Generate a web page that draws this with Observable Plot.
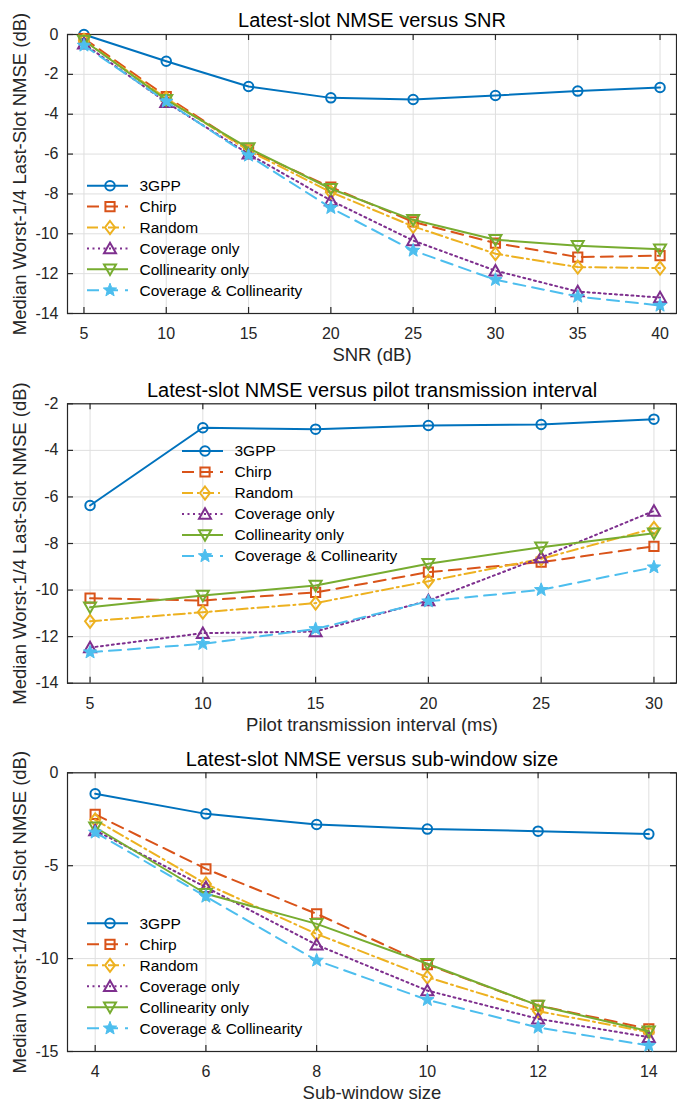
<!DOCTYPE html>
<html>
<head>
<meta charset="utf-8">
<script src="https://cdn.jsdelivr.net/npm/d3@7"></script>
<script src="https://cdn.jsdelivr.net/npm/@observablehq/plot@0.6"></script>
<style>
  html, body { margin: 0; padding: 0; background: #fff; }
  #chart { width: 677px; }
  #chart svg { display: block; }
</style>
</head>
<body>
<div id="chart"></div>
<script>
// ---------------- data ----------------
const seriesNames = ["3GPP", "Chirp", "Random", "Coverage only", "Collinearity only", "Coverage & Collinearity"];
const seriesColors = ["#0072BD", "#D95319", "#EDB120", "#7E2F8E", "#77AC30", "#4DBEEE"];

// Panel 1: SNR
const xSNR = [5, 10, 15, 20, 25, 30, 35, 40];
const snr3GPP = [0, -1.34, -2.61, -3.18, -3.26, -3.06, -2.84, -2.66];
const snrChirp = [-0.2, -3.11, -5.79, -7.66, -9.4, -10.47, -11.17, -11.1];
const snrRandom = [-0.3, -3.2, -5.83, -7.91, -9.63, -11.0, -11.67, -11.72];
const snrCoverage = [-0.47, -3.4, -5.99, -8.33, -10.34, -11.85, -12.9, -13.2];
const snrCollinearity = [-0.3, -3.28, -5.7, -7.74, -9.3, -10.3, -10.6, -10.77];
const snrCovCol = [-0.55, -3.36, -6.07, -8.7, -10.84, -12.31, -13.15, -13.6];

// Panel 2: pilot transmission interval
const xInterval = [5, 10, 15, 20, 25, 30];
const int3GPP = [-6.37, -3.03, -3.09, -2.93, -2.89, -2.66];
const intChirp = [-10.35, -10.45, -10.1, -9.23, -8.8, -8.12];
const intRandom = [-11.34, -10.95, -10.56, -9.62, -8.66, -7.35];
const intCoverage = [-12.47, -11.85, -11.78, -10.45, -8.6, -6.6];
const intCollinearity = [-10.74, -10.23, -9.8, -8.87, -8.16, -7.56];
const intCovCol = [-12.67, -12.31, -11.67, -10.48, -9.99, -9.02];

// Panel 3: sub-window size
const xWindow = [4, 6, 8, 10, 12, 14];
const win3GPP = [-1.13, -2.21, -2.78, -3.03, -3.14, -3.3];
const winChirp = [-2.24, -5.17, -7.59, -10.32, -12.52, -13.78];
const winRandom = [-2.53, -5.98, -8.67, -11.0, -12.83, -13.96];
const winCoverage = [-3.1, -6.16, -9.26, -11.72, -13.24, -14.23];
const winCollinearity = [-2.93, -6.51, -8.13, -10.28, -12.52, -13.91];
const winCovCol = [-3.21, -6.66, -10.1, -12.22, -13.71, -14.68];

// ticks
const ticksXSNR = [5, 10, 15, 20, 25, 30, 35, 40];
const ticksYSNR = [0, -2, -4, -6, -8, -10, -12, -14];
const ticksXInterval = [5, 10, 15, 20, 25, 30];
const ticksYInterval = [-2, -4, -6, -8, -10, -12, -14];
const ticksXWindow = [4, 6, 8, 10, 12, 14];
const ticksYWindow = [0, -5, -10, -15];

const titles = ["Latest-slot NMSE versus SNR", "Latest-slot NMSE versus pilot transmission interval", "Latest-slot NMSE versus sub-window size"];
const xLabels = ["SNR (dB)", "Pilot transmission interval (ms)", "Sub-window size"];
const yLabel = "Median Worst-1/4 Last-Slot NMSE (dB)";

// ---------------- styles ----------------
const FONT = "'Liberation Sans', Arial, Helvetica, sans-serif";
const INK = "#262626";
const dashes = [null, "12,7", "11,4,2,4", "2,3.5", null, "12,7"];

function poly(ctx, pts) {
  ctx.moveTo(pts[0][0], pts[0][1]);
  for (let i = 1; i < pts.length; i++) ctx.lineTo(pts[i][0], pts[i][1]);
  ctx.closePath();
}
const symCircle = { draw(ctx, size) { const r = Math.sqrt(size / Math.PI) * 0.95; ctx.moveTo(r, 0); ctx.arc(0, 0, r, 0, 2 * Math.PI); } };
const symSquare = { draw(ctx, size) { const r = Math.sqrt(size / Math.PI) * 0.92; poly(ctx, [[-r, -r], [r, -r], [r, r], [-r, r]]); } };
const symDiamond = { draw(ctx, size) { const r = Math.sqrt(size / Math.PI); poly(ctx, [[0, -1.3 * r], [1.0 * r, 0], [0, 1.3 * r], [-1.0 * r, 0]]); } };
const symTriUp = { draw(ctx, size) { const r = Math.sqrt(size / Math.PI); poly(ctx, [[0, -1.15 * r], [1.2 * r, 0.95 * r], [-1.2 * r, 0.95 * r]]); } };
const symTriDown = { draw(ctx, size) { const r = Math.sqrt(size / Math.PI); poly(ctx, [[0, 1.15 * r], [1.2 * r, -0.95 * r], [-1.2 * r, -0.95 * r]]); } };
const symStar = { draw(ctx, size) {
  const r = Math.sqrt(size / Math.PI); const R = 1.4 * r, ri = 0.6 * r; const pts = [];
  for (let k = 0; k < 10; k++) { const a = -Math.PI / 2 + k * Math.PI / 5; const rr = k % 2 ? ri : R; pts.push([rr * Math.cos(a), rr * Math.sin(a)]); }
  poly(ctx, pts);
} };
const symbols = [symCircle, symSquare, symDiamond, symTriUp, symTriDown, symStar];
const symFilled = [false, false, false, false, false, true];
const R_MARK = 5;

// ---------------- panels ----------------
const panels = [
  { x: xSNR, ys: [snr3GPP, snrChirp, snrRandom, snrCoverage, snrCollinearity, snrCovCol],
    xDomain: [4, 41], yDomain: [-14, 0], xt: ticksXSNR, yt: ticksYSNR,
    height: 368, mt: 34, mb: 55, legend: { x0: 87, y0: 185.7, dy: 20.9 } },
  { x: xInterval, ys: [int3GPP, intChirp, intRandom, intCoverage, intCollinearity, intCovCol],
    xDomain: [4, 31], yDomain: [-14, -2], xt: ticksXInterval, yt: ticksYInterval,
    height: 368, mt: 35.3, mb: 53.3, legend: { x0: 182, y0: 83, dy: 21 } },
  { x: xWindow, ys: [win3GPP, winChirp, winRandom, winCoverage, winCollinearity, winCovCol],
    xDomain: [3.5, 14.5], yDomain: [-15, 0], xt: ticksXWindow, yt: ticksYWindow,
    height: 369, mt: 36.3, mb: 54, legend: { x0: 87, y0: 187.3, dy: 21 } }
];

const W = 677, ML = 67, MR = 1;

panels.forEach((p, pi) => {
  const FH = p.height - p.mt - p.mb;
  const FW = W - ML - MR;
  const marks = [
    Plot.gridX(p.xt, { stroke: "#dfdfdf", strokeOpacity: 1, strokeWidth: 1 }),
    Plot.gridY(p.yt, { stroke: "#dfdfdf", strokeOpacity: 1, strokeWidth: 1 }),
    Plot.frame({ stroke: INK, strokeWidth: 1.2 }),
    // inward ticks on all four sides
    Plot.ruleX(p.xt, { x: d => d, insetTop: FH - 6, stroke: INK, strokeWidth: 1.2 }),
    Plot.ruleX(p.xt, { x: d => d, insetBottom: FH - 6, stroke: INK, strokeWidth: 1.2 }),
    Plot.ruleY(p.yt, { y: d => d, insetRight: FW - 6, stroke: INK, strokeWidth: 1.2 }),
    Plot.ruleY(p.yt, { y: d => d, insetLeft: FW - 6, stroke: INK, strokeWidth: 1.2 }),
    Plot.axisX(p.xt, { tickSize: 0, tickPadding: 14, fontSize: 16, label: null, tickFormat: d => String(d) }),
    Plot.axisY(p.yt, { tickSize: 0, tickPadding: 9, fontSize: 16, label: null, tickFormat: d => String(d) }),
    Plot.text([titles[pi]], { text: d => d, frameAnchor: "top", dy: -13.7, fontSize: 20, fill: "#000",
      textAnchor: "middle", lineAnchor: "middle" }),
    Plot.text([xLabels[pi]], { text: d => d, frameAnchor: "bottom", dy: 41.4, fontSize: 18.5, fill: INK,
      textAnchor: "middle", lineAnchor: "middle" }),
    Plot.text([yLabel], { text: d => d, frameAnchor: "left", dx: -47.9, rotate: -90, fontSize: 18.5, fill: INK,
      textAnchor: "middle", lineAnchor: "middle" })
  ];
  p.ys.forEach((vals, si) => {
    const rows = p.x.map((xv, i) => ({ x: xv, y: vals[i] }));
    marks.push(Plot.line(rows, { x: "x", y: "y", stroke: seriesColors[si], strokeWidth: 2,
      strokeDasharray: dashes[si] || undefined, strokeLinejoin: "round" }));
    marks.push(Plot.dot(rows, { x: "x", y: "y", r: R_MARK, symbol: symbols[si], stroke: seriesColors[si],
      fill: symFilled[si] ? seriesColors[si] : "none", strokeWidth: symFilled[si] ? 1 : 2 }));
  });
  const svg = Plot.plot({
    width: W, height: p.height,
    marginLeft: ML, marginRight: MR, marginTop: p.mt, marginBottom: p.mb,
    x: { domain: p.xDomain }, y: { domain: p.yDomain },
    style: { fontFamily: FONT, fontSize: "16px", color: INK, background: "#fff", overflow: "visible" },
    marks
  });
  // legend (no box, like the reference)
  const g = d3.select(svg).append("g").attr("class", "legend");
  seriesNames.forEach((name, si) => {
    const y = p.legend.y0 + si * p.legend.dy;
    const x0 = p.legend.x0;
    g.append("line").attr("x1", x0).attr("x2", x0 + 41).attr("y1", y).attr("y2", y)
      .attr("stroke", seriesColors[si]).attr("stroke-width", 2)
      .attr("stroke-dasharray", dashes[si]);
    g.append("path").attr("d", d3.symbol(symbols[si], R_MARK * R_MARK * Math.PI)())
      .attr("transform", `translate(${x0 + 23},${y})`)
      .attr("stroke", seriesColors[si]).attr("stroke-width", symFilled[si] ? 1 : 2)
      .attr("fill", symFilled[si] ? seriesColors[si] : "none");
    g.append("text").attr("x", x0 + 52.5).attr("y", y).attr("dy", "0.35em")
      .attr("text-anchor", "start")
      .attr("font-size", 15.5).attr("font-family", FONT).attr("fill", "#000").text(name);
  });
  document.getElementById("chart").appendChild(svg);
});
</script>
</body>
</html>
